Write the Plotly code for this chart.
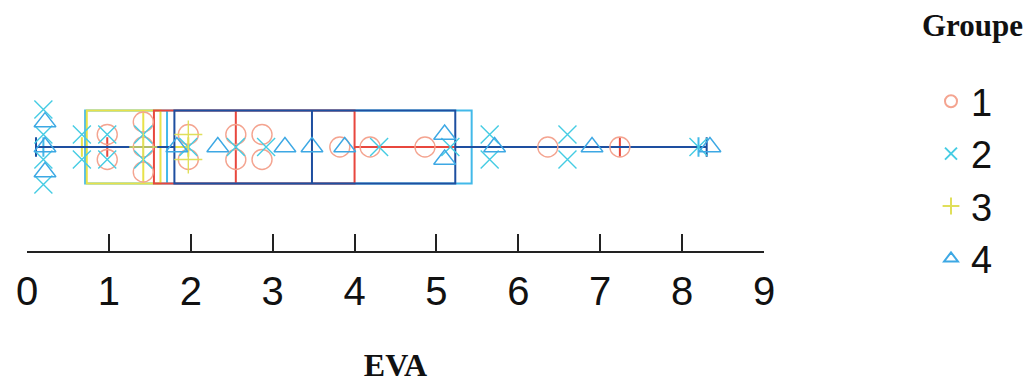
import plotly.graph_objects as go
from collections import Counter

# ---- data (EVA values) ----
groups = ["1", "2", "3", "4"]
eva_g1 = [0.98, 0.98, 1.42, 1.42, 1.42, 1.97, 1.97, 2.55, 2.55, 2.87, 2.87, 3.82, 4.19, 4.86, 6.36, 7.24]
eva_g2 = [0.2, 0.2, 0.2, 0.2, 0.67, 0.67, 0.98, 0.98, 1.42, 1.42, 1.97, 2.55, 2.92, 4.3, 5.17, 5.65, 5.65, 6.6, 6.6, 8.2]
eva_g3 = [1.42, 1.97, 1.97]
eva_g4 = [0.22, 0.22, 0.22, 1.83, 2.33, 3.15, 3.48, 3.88, 5.1, 5.1, 5.71, 6.9, 8.34]

# box statistics per group
q1_vals = [1.55, 0.71, 0.73, 1.80]
median_vals = [2.55, 1.71, 1.42, 3.48]
q3_vals = [4.00, 5.43, 1.63, 5.23]
lowfence_vals = [0.98, 0.2, 0.67, 0.11]
upfence_vals = [7.24, 8.2, 1.97, 8.30]

x_ticks = [0, 1, 2, 3, 4, 5, 6, 7, 8, 9]

# ---- styles ----
box_colors = ["#E8473E", "#42B9E9", "#E8E24A", "#1E4FA0"]
marker_colors = ["#F4A490", "#45CCE3", "#E0DF5A", "#3DA8E4"]
symbols = ["circle-open", "x-thin-open", "cross-thin-open", "triangle-up-open"]
msizes = [20, 18, 20, 19]
STEP = 0.24

W, H = 1026, 375          # page body adds an 8px offset
TOP, BOTTOM, LEFT, RIGHT = 12, 132, 19, 270
PLOT_H = H - TOP - BOTTOM
AXIS_Y = H - BOTTOM       # figure pixel row of the x axis


def stack_offsets(vals, step):
    """centred vertical stacking of identical values (dot-plot style)"""
    counts = Counter(vals)
    seen = Counter()
    ys = []
    for v in vals:
        k = counts[v]
        i = seen[v]
        seen[v] += 1
        ys.append((i - (k - 1) / 2) * step)
    return ys


series = [eva_g1, eva_g2, eva_g3, eva_g4]

fig = go.Figure()

# boxes (drawn in this order: 2, 3, 1, 4)
for gi in [1, 2, 0, 3]:
    fig.add_trace(go.Box(
        y=[0], orientation="h",
        q1=[q1_vals[gi]], median=[median_vals[gi]], q3=[q3_vals[gi]],
        lowerfence=[lowfence_vals[gi]], upperfence=[upfence_vals[gi]],
        width=0.70, whiskerwidth=0.27,
        line=dict(color=box_colors[gi], width=2),
        fillcolor="rgba(0,0,0,0)",
        showlegend=False, hoverinfo="skip",
    ))

# points
for gi, vals in enumerate(series):
    fig.add_trace(go.Scatter(
        x=vals, y=stack_offsets(vals, STEP), mode="markers",
        name=groups[gi], legendgroup=groups[gi],
        marker=dict(symbol=symbols[gi], size=msizes[gi], color=marker_colors[gi],
                    line=dict(width=1.4, color=marker_colors[gi])),
    ))

fig.update_layout(
    width=W, height=H,
    margin=dict(l=LEFT, r=RIGHT, t=TOP, b=BOTTOM),
    paper_bgcolor="white", plot_bgcolor="white",
    boxmode="overlay",
    showlegend=True,
    legend=dict(
        x=(923 - LEFT) / 737, xanchor="left", y=(AXIS_Y - 62) / PLOT_H, yanchor="top",
        font=dict(family="Liberation Sans, Arial", size=38, color="#111"),
        itemsizing="constant", tracegroupgap=0,
        bgcolor="rgba(0,0,0,0)",
    ),
    annotations=[dict(
        text="<b>Groupe</b>", xref="paper", yref="paper",
        x=(964 - LEFT) / 737, y=(AXIS_Y - 17) / PLOT_H, xanchor="center", yanchor="middle",
        showarrow=False, font=dict(family="Liberation Serif, Times New Roman", size=31, color="#111"),
    )],
)

fig.update_xaxes(
    range=[0, 9], tickvals=x_ticks, ticktext=[str(t) for t in x_ticks],
    showline=True, linecolor="#222", linewidth=2,
    ticks="inside", ticklen=17, tickwidth=2, tickcolor="#222",
    showgrid=False, zeroline=False, automargin=False,
    tickfont=dict(family="Liberation Sans, Arial", size=40, color="#111"),
    ticklabelstandoff=4,
    title=dict(text="<b>EVA</b>", standoff=57,
               font=dict(family="Liberation Serif, Times New Roman", size=32, color="#111")),
)
fig.update_yaxes(range=[-1.0, (PLOT_H - 104) / 104], visible=False, showgrid=False,
                 zeroline=False, automargin=False)

fig.write_html("out.html")
